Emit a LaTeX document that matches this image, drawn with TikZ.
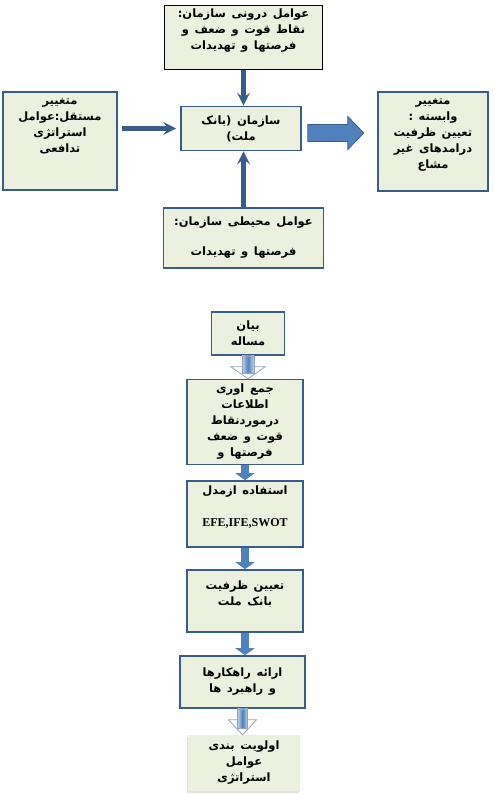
\documentclass[tikz,border=0pt]{standalone}
\usepackage{fontspec}
\setmainfont{Liberation Serif}
\newfontfamily\arabicfont[Script=Arabic,WordSpace=1.4]{DejaVu Sans}
\TeXXeTstate=1
\usetikzlibrary{arrows.meta,shadows}
\definecolor{boxgreen}{RGB}{235,241,222}
\definecolor{boxblue}{RGB}{56,93,138}
\definecolor{arrowblue}{RGB}{79,129,189}
\definecolor{palegray}{RGB}{150,165,185}
\newcommand{\fa}[1]{\beginR #1\endR}

\begin{document}
\begin{tikzpicture}[x=1pt, y=-1pt,
  box/.style={rectangle, draw=boxblue, line width=1.6pt, fill=boxgreen, align=center, inner sep=1pt,
    font=\arabicfont\bfseries\fontsize{11.5}{16}\selectfont},
  arrow/.style={->, line width=4.5pt, >=stealth, boxblue},
  flowarrow/.style={-{Triangle[width=19pt,length=7pt]}, line width=8pt, arrowblue},
  blockarrow/.style={fill=arrowblue, draw=boxblue, line width=0.8pt},
  hollowhead/.style={fill=white, draw=palegray, line width=0.8pt},
  hollowshaft/.style={left color=arrowblue!35, right color=arrowblue!35, middle color=arrowblue, draw=palegray, line width=0.5pt}
]
\useasboundingbox (0,0) rectangle (495,795);

% upper diagram
\node[box, draw=black, line width=1pt, minimum width=158, minimum height=64] (inner) at (243.5,37)
  {\fa{عوامل درونی سازمان:}\\ \fa{نقاط قوت و ضعف و}\\ \fa{فرصتها و تهدیدات}\\ ~};
\node[box, minimum width=114, minimum height=98] (indep) at (60,141)
  {\fa{متغییر}\\ \fa{مستقل:عوامل}\\ \fa{استراتژی}\\ \fa{تدافعی}\\ ~\\ ~};
\node[box, minimum width=120, minimum height=44] (bank) at (241,128.5)
  {\fa{سازمان (بانک}\\ \fa{ملت)}};
\node[box, minimum width=110, minimum height=99] (dep) at (433,141.5)
  {\fa{متغییر}\\ \fa{وابسته :}\\ \fa{تعیین ظرفیت}\\ \fa{درامدهای غیر}\\ \fa{مشاع}\\ ~};
\node[box, minimum width=160, minimum height=60] (outer) at (243.5,238)
  {\fa{عوامل محیطی سازمان:}\\[14pt] \fa{فرصتها و تهدیدات}};

\draw[arrow] (inner.south) -- (inner.south |- bank.north);
\draw[arrow] (outer.north) -- (outer.north |- bank.south);
\draw[arrow, shorten <=4pt, shorten >=4pt] (indep.east |- bank.west) -- (bank.west);
\draw[blockarrow] ([shift={(6,-4)}]bank.east) -- ++(40,0) -- ++(0,-8) -- ++(16,16.5)
  -- ++(-16,16.5) -- ++(0,-8) -- ++(-40,0) -- cycle;

% lower flow chart
\node[box, minimum width=73, minimum height=43] (problem) at (248,333.5)
  {\fa{بیان}\\ \fa{مساله}};
\node[box, minimum width=116, minimum height=85] (collect) at (245,422)
  {\fa{جمع اوری}\\ \fa{اطلاعات}\\ \fa{درموردنقاط}\\ \fa{قوت و ضعف}\\ \fa{فرصتها و}};
\node[box, minimum width=116, minimum height=66] (model) at (245,514)
  {\fa{استفاده ازمدل}\\ ~\\ {\rmfamily\bfseries\fontsize{12}{16}\selectfont EFE,IFE,SWOT}\\ ~};
\node[box, minimum width=116, minimum height=62] (capacity) at (245,601)
  {\fa{تعیین ظرفیت}\\ \fa{بانک ملت}\\ ~};
\node[box, minimum width=125, minimum height=52] (strategy) at (242.5,682)
  {\fa{ارائه راهکارها}\\ \fa{و راهبرد ها}};
\node[box, draw=none, minimum width=112, minimum height=56,
  drop shadow={shadow xshift=-1.5pt, shadow yshift=-2pt, fill=gray!45}] (priority) at (244,763)
  {\fa{اولویت بندی}\\ \fa{عوامل}\\ \fa{استراتژی}};

\draw[hollowhead] ([shift={(-17,11)}]problem.south) -- ++(34,0) -- ++(-17,12) -- cycle;
\draw[hollowshaft] ([shift={(-6,0)}]problem.south) rectangle ([shift={(6,17)}]problem.south);
\draw[flowarrow] (collect) -- (model);
\draw[flowarrow] (model) -- (capacity);
\draw[flowarrow] (capacity.south) -- (capacity.south |- strategy.north);
\draw[hollowhead] ([shift={(-14,11)}]strategy.south) -- ++(28,0) -- ++(-14,15) -- cycle;
\draw[hollowshaft] ([shift={(-5,0)}]strategy.south) rectangle ([shift={(5,19)}]strategy.south);
\end{tikzpicture}
\end{document}
